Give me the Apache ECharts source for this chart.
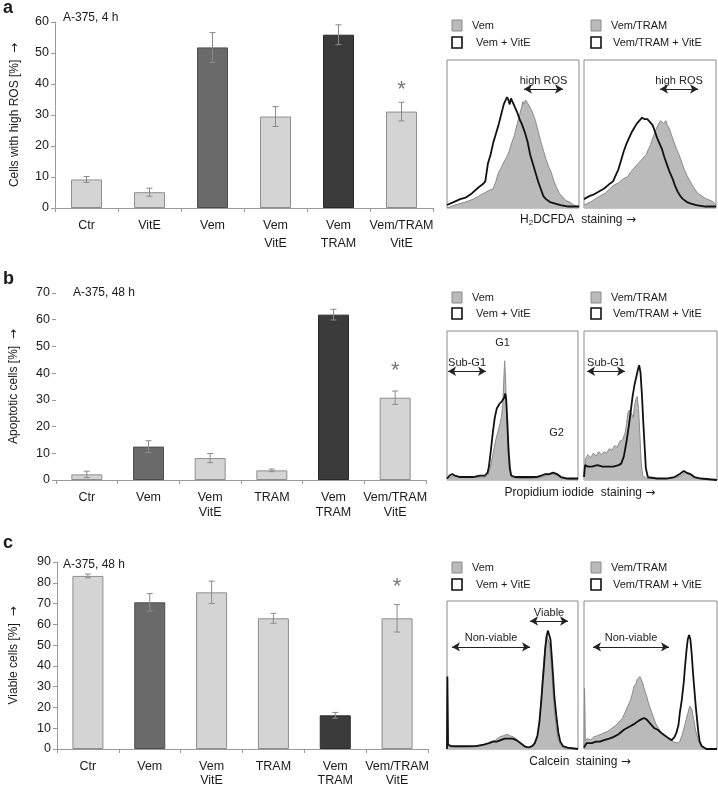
<!DOCTYPE html>
<html><head><meta charset="utf-8">
<script src="https://cdn.jsdelivr.net/npm/echarts@6/dist/echarts.min.js"></script>
<style>html,body{margin:0;padding:0;background:#fff}#c{width:718px;height:788px}</style>
</head><body><div id="c"></div>
<script>
// ---------- bar chart data ----------
const catsA = ['Ctr', 'VitE', 'Vem', 'Vem\nVitE', 'Vem\nTRAM', 'Vem/TRAM\nVitE'];
const rosVals = [9.2, 5.1, 51.8, 29.5, 55.9, 31.1];
const rosErrs = [0.95, 1.3, 4.8, 3.2, 3.2, 3.0];
const rosShades = ['light', 'light', 'mid', 'light', 'dark', 'light'];
const rosStar = 39.9;
const rosTicks = [0, 10, 20, 30, 40, 50, 60];

const catsB = ['Ctr', 'Vem', 'Vem\nVitE', 'TRAM', 'Vem\nTRAM', 'Vem/TRAM\nVitE'];
const apoVals = [2.1, 12.5, 8.2, 3.6, 61.9, 30.8];
const apoErrs = [1.2, 2.2, 1.7, 0.5, 2.0, 2.5];
const apoShades = ['light', 'mid', 'light', 'light', 'dark', 'light'];
const apoStar = 43;
const apoTicks = [0, 10, 20, 30, 40, 50, 60, 70];

const catsC = ['Ctr', 'Vem', 'Vem\nVitE', 'TRAM', 'Vem\nTRAM', 'Vem/TRAM\nVitE'];
const viaVals = [83.3, 70.6, 75.4, 62.9, 16.2, 62.9];
const viaErrs = [0.9, 4.2, 5.4, 2.4, 1.4, 6.6];
const viaShades = ['light', 'mid', 'light', 'light', 'dark', 'light'];
const viaStar = 80.7;
const viaTicks = [0, 10, 20, 30, 40, 50, 60, 70, 80, 90];

// ---------- histogram data: [channel %, count %] ----------
const rosVem = [[0,0],[6,2],[14,4],[20,6],[24,8],[28,10],[32,12],[35,13],[37,18],[39,24],[41,27],[43,31],[45,34],[47,38],[49,44],[51,49],[53,56],[55,63],[56.5,68],[57.5,72],[58.5,70],[59.5,73],[61,71],[62,70],[63.5,67],[65,64],[67,59],[69,52],[71,45],[73,39],[75,33],[77,28],[79,24],[81,18],[83,14],[85,10],[87,8],[90,5],[93,4],[96,2],[100,1]];
const rosVemVitE = [[0,2],[5,4],[10,6],[14,7],[19,10],[24,14],[27,16],[29,18],[31,30],[33,36],[35,44],[37,50],[39,56],[41,63],[43,70],[44,72],[45.5,75],[46.5,73],[47.5,70],[48.5,74],[49.5,72],[50.5,73],[52,67],[53,65],[55,60],[57,56],[59,51],[61,45],[63,36],[65,30],[67,24],[69,18],[71,13],[73,8],[75,6],[78,4],[82,3],[86,2],[92,1],[100,1]];
const rosTram = [[0,2],[5,4],[10,7],[16,10],[22,15],[26,17],[30,20],[33,21],[35,24],[38,27],[41,30],[44,33],[47,36],[49,40],[50.5,43],[52,47],[54,52],[56,56],[58,59],[59.5,58],[60.5,57],[62,59],[63,56],[64.5,54],[66,50],[68,45],[70,40],[72,36],[74,31],[76,26],[78,22],[81,17],[83,14],[86,10],[88,9],[91,7],[93,6],[96,5],[98,4],[100,2]];
const rosTramVitE = [[0,6],[4,8],[7,9],[11,11],[15,13],[19,16],[22,18],[24,22],[26,26],[28,32],[30,38],[32,43],[34,47],[36,51],[38,54],[40,57],[42,59],[44,61],[45,62],[46,60],[48,60],[50,58],[52,56],[54,51],[55.5,47],[57,44],[59,40],[61,34],[63,29],[65,24],[67,20],[69,15],[71,11],[73,8],[75,6],[78,4],[81,3],[85,2],[92,1],[100,1]];

const piVem = [[0,1],[3,2],[6,3],[10,2],[20,2],[29,2],[31,3],[33,8],[35,17],[37,26],[39,33],[40.5,38],[41.5,42],[42.5,50],[43.3,66],[44,80],[44.7,68],[45.5,45],[46.5,22],[47.5,8],[49,2],[55,1],[65,1],[72,2],[76,3],[80,4],[84,3],[88,1],[100,0]];
const piVemVitE = [[0,1],[2,3],[4,4],[6,3],[10,2],[15,2],[20,2],[25,3],[29,3],[31,5],[32,9],[33.5,20],[35,32],[36.5,42],[38,48],[40,51],[42,53],[43.5,55],[44.5,58],[45.2,54],[46,40],[47,20],[48,8],[49,3],[52,2],[60,2],[68,2],[72,3],[75,4],[78,4],[81,5],[84,4],[87,2],[92,1],[100,1]];
const piTram = [[0,3],[1,14],[3,17],[5,15],[7,18],[9,16],[11,19],[13,17],[15,19],[17,18],[19,21],[21,20],[23,23],[25,22],[27,26],[29,27],[31,32],[32,38],[33,45],[34,47],[35,48],[36,44],[37,42],[38,50],[39,54],[40,56],[41,48],[42,30],[43,12],[44,3],[47,1],[55,1],[65,1],[70,2],[73,3],[76,5],[79,4],[82,2],[86,1],[100,0]];
const piTramVitE = [[0,2],[0.8,10],[3,9],[6,9],[10,10],[14,9],[18,9],[22,9],[26,10],[28,11],[30,16],[32,26],[33.5,35],[35,45],[36.5,56],[38,64],[39.5,70],[40.5,74],[41.5,77],[42.5,72],[43.5,58],[44.5,40],[45.5,24],[46.5,8],[48,2],[55,1],[62,1],[68,2],[72,4],[75,6],[77,5],[80,4],[83,2],[88,1],[100,0]];

const calVem = [[0,0],[0.3,45],[0.8,2],[5,1],[15,1],[25,2],[30,3],[34,5],[37,6],[40,8],[43,9],[46,10],[48,9],[51,8],[54,6],[57,3],[60,1],[64,1],[67,3],[69,8],[70.5,18],[72,35],[73,48],[74,60],[75,70],[76,77],[77,76],[78,72],[79,64],[80,52],[81,38],[82,26],[83.5,14],[85,6],[87,2],[90,0],[100,0]];
const calVemVitE = [[0,0],[0.3,49],[0.8,3],[3,2],[8,2],[15,2],[22,2],[28,3],[32,4],[35,5],[38,5],[41,6],[44,7],[47,7],[50,7],[53,6],[56,4],[59,2],[62,1],[65,2],[67,4],[69,9],[70.5,18],[72,33],[73,45],[74,56],[75,68],[76,76],[77,80],[78,79],[79,74],[80,62],[81,49],[82,35],[83.5,22],[85,11],[86.5,5],[88.5,2],[92,1],[100,0]];
const calTram = [[0,0],[0.4,41],[1,6],[3,7],[5,6],[7,8],[10,9],[13,10],[15,11],[18,12],[21,14],[24,16],[27,19],[29,21],[31,25],[33,29],[35,33],[36.5,38],[37.5,42],[39,44],[40,47],[41,46],[42,49],[43,47],[44,45],[45.5,40],[47,36],[48.5,31],[50,27],[52,22],[54,17],[56,14],[58,11],[61,9],[64,7],[67,5],[70,4],[72,5],[74,10],[76,17],[78,24],[79.5,29],[81,27],[82.5,20],[84,12],[86,6],[88,2],[90,0],[100,0]];
const calTramVitE = [[0,1],[2,4],[6,4],[9,5],[12,5],[15,6],[19,7],[22,8],[26,10],[30,13],[34,15],[38,17],[41,19],[43,20],[45,21],[47,20],[49,18],[51,16],[53,14],[55.5,13],[58,11],[61,9],[64,7],[66,6],[68,8],[69.5,11],[71,16],[72,24],[73.5,33],[75,45],[76,56],[77,66],[78,74],[79,77],[80,74],[81,64],[82,51],[83,40],[84,29],[85,20],[86,11],[87,5],[88.5,2],[92,0],[100,0]];

const legendLeft = ['Vem', 'Vem + VitE'];
const legendRight = ['Vem/TRAM', 'Vem/TRAM + VitE'];

// ---------- styling / layout ----------
const FONT = "'Liberation Sans', Arial, Helvetica, sans-serif";
const ARROWFONT = "'DejaVu Sans', sans-serif";
const SHADE = {
  light: {color: '#d4d4d4', border: '#8e8e8e'},
  mid: {color: '#6a6a6a', border: '#4e4e4e'},
  dark: {color: '#3b3b3b', border: '#2a2a2a'}
};
const AXIS_C = '#9a9a9a';
const RICH = {
  t: {fontFamily: FONT, fontSize: 12, color: '#1a1a1a'},
  a: {fontFamily: ARROWFONT, fontSize: 12, color: '#1a1a1a'}
};

const barPanels = [
  {cats: catsA, vals: rosVals, errs: rosErrs, shades: rosShades, star: rosStar, ticks: rosTicks,
   grid: {left: 55, top: 22, width: 378, height: 186}, name: 'Cells with high ROS [%]', nameGap: 34, lineH: 18, margin: 9, showLine: true},
  {cats: catsB, vals: apoVals, errs: apoErrs, shades: apoShades, star: apoStar, ticks: apoTicks,
   grid: {left: 51, top: 293, width: 375, height: 187}, name: 'Apoptotic cells [%]', nameGap: 36, lineH: 15, margin: 10, showLine: false},
  {cats: catsC, vals: viaVals, errs: viaErrs, shades: viaShades, star: viaStar, ticks: viaTicks,
   grid: {left: 52, top: 562, width: 376, height: 187}, name: 'Viable cells [%]', nameGap: 37, lineH: 14, margin: 11, showLine: true}
];

const arrowLine = (x1, x2, y, text) => [{coord: [x1, y], name: text}, {coord: [x2, y]}];

const histPanels = [
  {gray: rosVem, black: rosVemVitE, grid: {left: 447, top: 60, width: 132, height: 148},
   lines: [arrowLine(58.3, 87.9, 80.4, 'high ROS')], points: []},
  {gray: rosTram, black: rosTramVitE, grid: {left: 584, top: 60, width: 132, height: 148},
   lines: [arrowLine(57.6, 86.4, 80.4, 'high ROS')], points: []},
  {gray: piVem, black: piVemVitE, grid: {left: 447, top: 331, width: 131, height: 149},
   lines: [arrowLine(0.8, 29.8, 73, 'Sub-G1')], points: [{name: 'G1', coord: [42.4, 92]}, {name: 'G2', coord: [83.7, 31.5]}]},
  {gray: piTram, black: piTramVitE, grid: {left: 584, top: 331, width: 133, height: 149},
   lines: [arrowLine(2.3, 30.8, 73, 'Sub-G1')], points: []},
  {gray: calVem, black: calVemVitE, grid: {left: 447, top: 601, width: 131, height: 148},
   lines: [arrowLine(63.4, 92.4, 86.5, 'Viable'), arrowLine(3.8, 63.4, 69, 'Non-viable')], points: []},
  {gray: calTram, black: calTramVitE, grid: {left: 584, top: 601, width: 133, height: 148},
   lines: [arrowLine(6.8, 63.9, 69, 'Non-viable')], points: []}
];

const grids = [], xAxes = [], yAxes = [], series = [];

function errRender(params, api) {
  const lo = api.coord([api.value(0), api.value(1)]);
  const hi = api.coord([api.value(0), api.value(2)]);
  const w = 3;
  const st = {stroke: '#8a8a8a', lineWidth: 1};
  return {type: 'group', children: [
    {type: 'line', shape: {x1: lo[0], y1: lo[1], x2: hi[0], y2: hi[1]}, style: st},
    {type: 'line', shape: {x1: lo[0] - w, y1: lo[1], x2: lo[0] + w, y2: lo[1]}, style: st},
    {type: 'line', shape: {x1: hi[0] - w, y1: hi[1], x2: hi[0] + w, y2: hi[1]}, style: st}
  ]};
}

barPanels.forEach((p, i) => {
  grids.push(Object.assign({containLabel: false}, p.grid));
  xAxes.push({
    type: 'category', gridIndex: i, data: p.cats,
    axisLine: {show: true, lineStyle: {color: AXIS_C, width: 1}},
    axisTick: {show: true, length: 4, lineStyle: {color: AXIS_C}},
    axisLabel: {interval: 0, fontFamily: FONT, fontSize: 12.5, color: '#1a1a1a', lineHeight: p.lineH, margin: p.margin}
  });
  const tmax = p.ticks[p.ticks.length - 1];
  yAxes.push({
    type: 'value', gridIndex: i, min: p.ticks[0], max: tmax, interval: p.ticks[1] - p.ticks[0],
    splitLine: {show: false},
    axisLine: {show: p.showLine, lineStyle: {color: AXIS_C, width: 1}},
    axisTick: {show: true, length: 4, lineStyle: {color: AXIS_C}},
    axisLabel: {fontFamily: FONT, fontSize: 12.5, color: '#1a1a1a', margin: 6},
    name: '{t|' + p.name + '}  {a|→}', nameLocation: 'middle', nameRotate: 90, nameGap: p.nameGap,
    nameTextStyle: {fontFamily: FONT, fontSize: 12, color: '#1a1a1a', rich: RICH}
  });
  series.push({
    type: 'bar', xAxisIndex: i, yAxisIndex: i, barWidth: 31,
    data: p.vals.map((v, k) => ({value: v, itemStyle: {color: SHADE[p.shades[k]].color, borderColor: SHADE[p.shades[k]].border, borderWidth: 1}}))
  });
  series.push({
    type: 'custom', xAxisIndex: i, yAxisIndex: i, renderItem: errRender, z: 5,
    encode: {x: 0, y: [1, 2]},
    data: p.vals.map((v, k) => [k, v - p.errs[k], v + p.errs[k]])
  });
  series.push({
    type: 'scatter', xAxisIndex: i, yAxisIndex: i, symbolSize: 1, itemStyle: {color: 'rgba(0,0,0,0)'}, z: 6,
    label: {show: true, formatter: '*', position: 'inside', fontFamily: FONT, fontSize: 22, color: '#555', offset: [0, 6]},
    data: [[p.cats.length - 1, p.star]]
  });
});

histPanels.forEach((h, j) => {
  const i = j + barPanels.length;
  grids.push(Object.assign({show: true, borderColor: '#8a8a8a', borderWidth: 1, backgroundColor: 'rgba(0,0,0,0)'}, h.grid));
  xAxes.push({type: 'value', gridIndex: i, min: 0, max: 100, show: false});
  yAxes.push({type: 'value', gridIndex: i, min: 0, max: 100, show: false});
  series.push({
    type: 'line', xAxisIndex: i, yAxisIndex: i, data: h.gray, showSymbol: false, symbol: 'none',
    lineStyle: {color: '#8a8a8a', width: 1}, areaStyle: {color: '#bababa', opacity: 1}, z: 2
  });
  series.push({
    type: 'line', xAxisIndex: i, yAxisIndex: i, data: h.black, showSymbol: false, symbol: 'none',
    lineStyle: {color: '#111', width: 1.8}, z: 3,
    markLine: {
      silent: true, symbol: ['arrow', 'arrow'], symbolSize: [7, 8], animation: false,
      lineStyle: {color: '#222', width: 1.2, type: 'solid'},
      label: {show: true, position: 'insideMiddleTop', formatter: '{b}', fontFamily: FONT, fontSize: 11, color: '#222', distance: 3},
      emphasis: {disabled: true},
      data: h.lines
    },
    markPoint: {
      silent: true, symbol: 'circle', symbolSize: 0, animation: false,
      label: {show: true, position: 'inside', formatter: '{b}', fontFamily: FONT, fontSize: 11, color: '#222'},
      data: h.points
    }
  });
});

// ---------- decorations ----------
const graphic = [];
const txt = (x, y, text, opts) => graphic.push({type: 'text', x, y, style: Object.assign({text, fontFamily: FONT, fontSize: 12, fill: '#1a1a1a', textVerticalAlign: 'middle'}, opts || {})});
txt(3, 8, 'a', {fontSize: 18, fontWeight: 'bold'});
txt(3, 279, 'b', {fontSize: 18, fontWeight: 'bold'});
txt(3, 543, 'c', {fontSize: 18, fontWeight: 'bold'});
txt(63, 18, 'A-375, 4 h');
txt(73, 293, 'A-375, 48 h');
txt(63, 565, 'A-375, 48 h');

function legend(x, y1, y2, labels, tx1, tx2) {
  graphic.push({type: 'rect', shape: {x, y: y1, width: 10, height: 11}, style: {fill: '#bababa', stroke: '#8a8a8a', lineWidth: 1}});
  graphic.push({type: 'rect', shape: {x, y: y2, width: 10, height: 11}, style: {fill: '#fff', stroke: '#111', lineWidth: 1.6}});
  txt(tx1, y1 + 5.5, labels[0], {fontSize: 11});
  txt(tx2, y2 + 5.5, labels[1], {fontSize: 11});
}
legend(452, 20, 37, legendLeft, 472, 476);
legend(591, 20, 37, legendRight, 611, 613);
legend(452, 292, 308, legendLeft, 472, 476);
legend(591, 292, 308, legendRight, 611, 613);
legend(452, 562, 579, legendLeft, 472, 476);
legend(591, 562, 579, legendRight, 611, 613);

const GRICH = {
  n: {fontFamily: FONT, fontSize: 12, fill: '#1a1a1a'},
  s: {fontFamily: FONT, fontSize: 8, fill: '#1a1a1a', verticalAlign: 'bottom', padding: [6, 0, 0, 0]},
  a: {fontFamily: ARROWFONT, fontSize: 12, fill: '#1a1a1a'}
};
const rtxt = (x, y, text) => graphic.push({type: 'text', x, y, style: {text, textAlign: 'center', textVerticalAlign: 'middle', rich: GRICH}});
rtxt(578, 220, '{n|H}{s|2}{n|DCFDA  staining} {a|→}');
rtxt(580, 493, '{n|Propidium iodide  staining} {a|→}');
rtxt(580, 762, '{n|Calcein  staining} {a|→}');

const chart = echarts.init(document.getElementById('c'), null, {renderer: 'canvas'});
chart.setOption({
  animation: false,
  backgroundColor: '#fff',
  textStyle: {fontFamily: FONT},
  grid: grids, xAxis: xAxes, yAxis: yAxes, series, graphic
});
</script></body></html>
